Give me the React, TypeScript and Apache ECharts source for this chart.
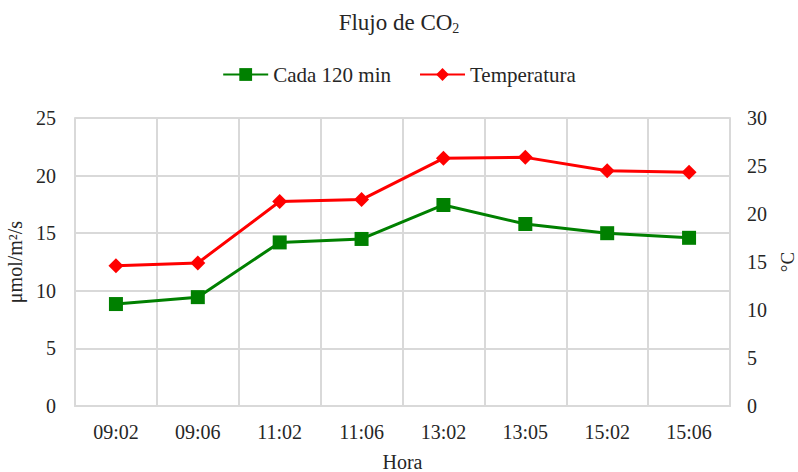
import React, { useEffect, useRef } from "react";
import * as echarts from "echarts";

const categories = ["09:02", "09:06", "11:02", "11:06", "13:02", "13:05", "15:02", "15:06"];
const flujo = [8.85, 9.45, 14.2, 14.5, 17.45, 15.8, 15.0, 14.6];
const temperatura = [14.6, 14.9, 21.3, 21.5, 25.8, 25.9, 24.5, 24.35];
const leftTicks = { min: 0, max: 25, interval: 5 };
const rightTicks = { min: 0, max: 30, interval: 5 };

const FONT = "'Liberation Serif', 'Times New Roman', serif";
const TXT = "#262626";
const GRID = "#d9d9d9";

export default function App() {
  const ref = useRef<HTMLDivElement>(null);
  useEffect(() => {
    const chart = echarts.init(ref.current!, null, { renderer: "svg" });
    chart.setOption({
      animation: false,
      backgroundColor: "#ffffff",
      title: {
        text: "Flujo de CO{sub|2}",
        left: "center",
        top: 4,
        textStyle: {
          fontFamily: FONT,
          fontSize: 23,
          fontWeight: "normal",
          color: TXT,
          rich: {
            sub: { fontFamily: FONT, fontSize: 14, verticalAlign: "bottom", padding: [12, 0, 0, 0], color: TXT },
          },
        },
      },
      legend: {
        top: 59,
        left: "center",
        itemGap: 28,
        itemWidth: 45,
        itemHeight: 16,
        textStyle: { fontFamily: FONT, fontSize: 21, color: TXT },
        data: ["Cada 120 min", "Temperatura"],
      },
      grid: { left: 75, right: 68, top: 118, bottom: 66, show: false, containLabel: false, outerBoundsMode: "none" },
      xAxis: {
        type: "category",
        data: categories,
        boundaryGap: true,
        name: "Hora",
        nameLocation: "middle",
        nameGap: 46,
        nameTextStyle: { fontFamily: FONT, fontSize: 20, color: TXT },
        axisLine: { show: true, lineStyle: { color: GRID, width: 2 } },
        axisTick: { show: false },
        axisLabel: { fontFamily: FONT, fontSize: 20, color: TXT, margin: 16 },
        splitLine: { show: true, lineStyle: { color: GRID, width: 2 } },
      },
      yAxis: [
        {
          type: "value",
          ...leftTicks,
          name: "μmol/m²/s",
          nameLocation: "middle",
          nameGap: 43,
          nameRotate: 90,
          nameTextStyle: { fontFamily: FONT, fontSize: 20, color: TXT },
          axisLine: { show: true, lineStyle: { color: GRID, width: 2 } },
          axisTick: { show: false },
          axisLabel: { fontFamily: FONT, fontSize: 20, color: TXT, margin: 19 },
          splitLine: { show: true, lineStyle: { color: GRID, width: 2 } },
        },
        {
          type: "value",
          ...rightTicks,
          position: "right",
          name: "°C",
          nameLocation: "middle",
          nameGap: 46,
          nameRotate: 90,
          nameTextStyle: { fontFamily: FONT, fontSize: 19, color: TXT },
          axisLine: { show: true, lineStyle: { color: GRID, width: 2 } },
          axisTick: { show: false },
          axisLabel: { fontFamily: FONT, fontSize: 20, color: TXT, margin: 17 },
          splitLine: { show: false },
        },
      ],
      series: [
        {
          name: "Cada 120 min",
          type: "line",
          yAxisIndex: 0,
          data: flujo,
          symbol: "rect",
          symbolSize: 14,
          color: "#008000",
          lineStyle: { width: 3, color: "#008000" },
          itemStyle: { color: "#008000" },
        },
        {
          name: "Temperatura",
          type: "line",
          yAxisIndex: 1,
          data: temperatura,
          symbol: "diamond",
          symbolSize: 15,
          color: "#ff0000",
          lineStyle: { width: 3, color: "#ff0000" },
          itemStyle: { color: "#ff0000" },
        },
      ],
    });
    return () => chart.dispose();
  }, []);
  return <div ref={ref} style={{ position: "absolute", left: 0, top: 0, width: 798, height: 472 }} />;
}
